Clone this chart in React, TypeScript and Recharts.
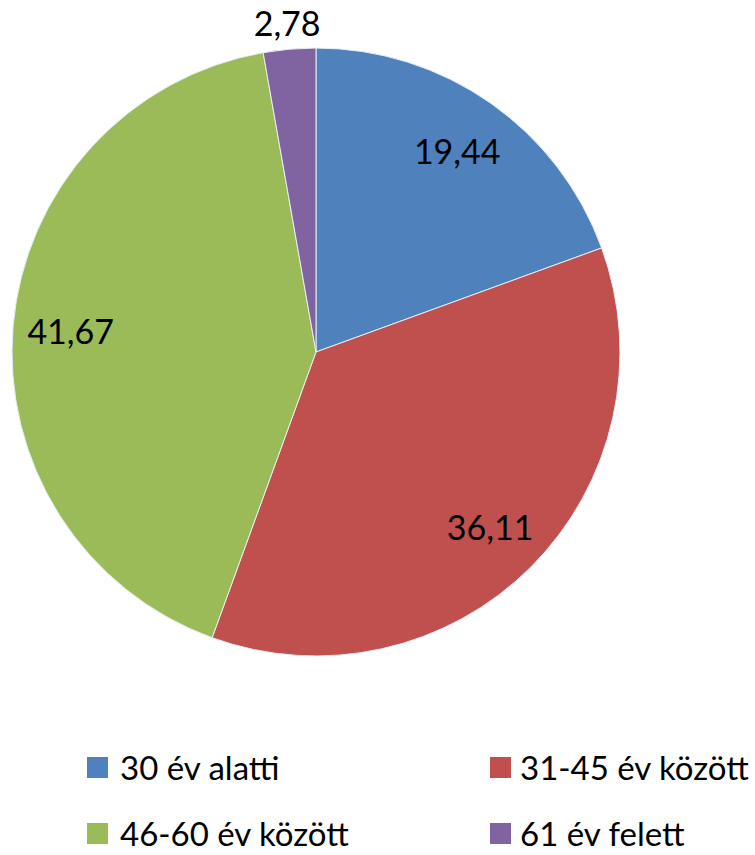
import React from 'react';
import { PieChart, Pie, Cell, Legend } from 'recharts';

const categories = ['30 év alatti', '31-45 év között', '46-60 év között', '61 év felett'];
const shares = [19.44, 36.11, 41.67, 2.78];
const colors = ['#4F81BD', '#C0504D', '#9BBB59', '#8064A2'];

const data = categories.map((name, i) => ({ name, value: shares[i] }));

const RADIAN = Math.PI / 180;
const FONT = 'Lato, "Open Sans", sans-serif';

const renderLabel = (props: any) => {
  const { cx, cy, midAngle, outerRadius, value } = props;
  // the thin slice gets its label outside the pie
  const r = value < 5 ? outerRadius + 27 : outerRadius * 0.81;
  const x = cx + r * Math.cos(-midAngle * RADIAN);
  const y = cy + r * Math.sin(-midAngle * RADIAN);
  return (
    <text x={x} y={y} fill="#000" fontSize={34} fontFamily={FONT} textAnchor="middle" dominantBaseline="central">
      {value.toFixed(2).replace('.', ',')}
    </text>
  );
};

// 2x2 legend grid under the pie
const legendPos = [
  { left: 87, top: 0 },
  { left: 490, top: 0 },
  { left: 87, top: 66 },
  { left: 490, top: 66 },
];

const renderLegend = () => (
  <div style={{ position: 'relative', width: 755, height: 100 }}>
    {categories.map((c, i) => (
      <div
        key={c}
        style={{
          position: 'absolute',
          left: legendPos[i].left,
          top: legendPos[i].top,
          display: 'flex',
          alignItems: 'center',
          fontFamily: FONT,
          fontSize: 33,
          color: '#000',
          whiteSpace: 'nowrap',
          lineHeight: '34px',
          height: 34,
        }}
      >
        <span style={{ display: 'inline-block', width: 21, height: 21, background: colors[i], marginRight: i % 2 === 0 ? 12 : 9 }} />
        {c}
      </div>
    ))}
  </div>
);

export default function App() {
  return (
    <div style={{ position: 'absolute', left: 0, top: 0, background: '#fff' }}>
      <PieChart width={755} height={855} margin={{ top: 0, right: 0, bottom: 0, left: 0 }}>
        <Pie
          data={data}
          dataKey="value"
          nameKey="name"
          cx={316}
          cy={352}
          outerRadius={304}
          startAngle={90}
          endAngle={-270}
          stroke="#e8eef6"
          strokeWidth={1}
          label={renderLabel}
          labelLine={false}
          isAnimationActive={false}
        >
          {data.map((d, i) => (
            <Cell key={d.name} fill={colors[i]} />
          ))}
        </Pie>
        <Legend content={renderLegend} wrapperStyle={{ position: 'absolute', left: 0, top: 750, width: 755 }} />
      </PieChart>
    </div>
  );
}
